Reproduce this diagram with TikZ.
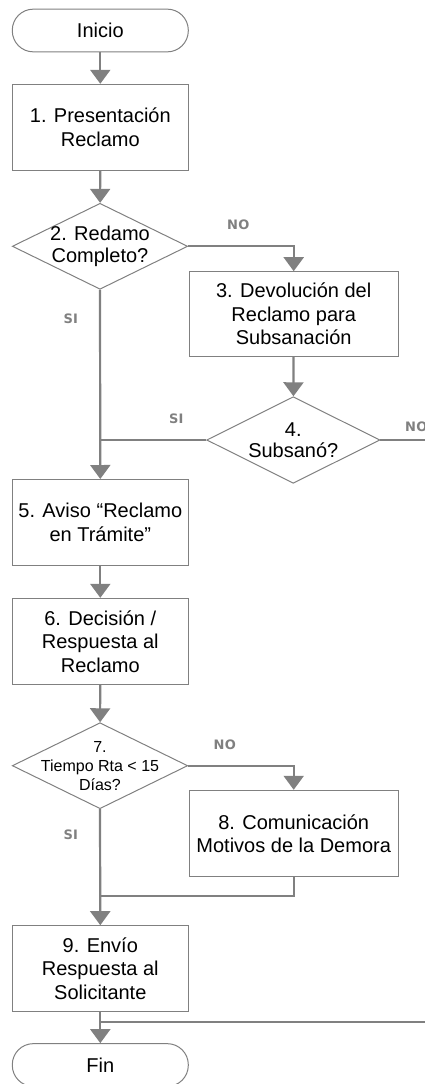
\documentclass[tikz,border=0pt]{standalone}
\usepackage{fontspec}
\setmainfont{Liberation Sans}
\newfontfamily\lblfont[LetterSpace=3]{DejaVu Sans}
\usetikzlibrary{shapes.geometric,arrows.meta}
\definecolor{ln}{RGB}{128,128,128}
\definecolor{lbl}{RGB}{128,128,128}
\begin{document}
\begin{tikzpicture}[x=1pt,y=-1pt,
  proc/.style={draw=ln, line width=1pt, fill=white, minimum width=176pt, minimum height=86pt,
    inner sep=0pt, align=center, font=\fontsize{20}{23.5}\selectfont},
  wide/.style={proc, minimum width=209.3pt, minimum height=85pt},
  term/.style={proc, rounded corners=21pt, minimum height=42.7pt},
  dia/.style={draw=ln, line width=1pt, shape=diamond, minimum width=175.4pt, minimum height=86pt, inner sep=0pt},
  dtxt/.style={align=center, inner sep=0pt, font=\fontsize{20}{21.5}\selectfont},
  dtxs/.style={align=center, inner sep=0pt, font=\fontsize{16}{19}\selectfont},
  conn/.style={draw=ln, line width=2.2pt},
  edge/.style={draw=ln, line width=1.6pt},
  arr/.style={conn, -{Triangle[width=20pt,length=14pt]}},
  lab/.style={text=lbl, inner sep=0pt, font=\lblfont\bfseries\fontsize{13}{15}\selectfont}
]
\useasboundingbox (0,0) rectangle (425,1084);
\clip (0,0) rectangle (425,1084);

% nodes
\node[term] (start) at (100.3,30.5) {Inicio};
\node[proc] (b1) at (100.3,127.3) {1. Presentación\\Reclamo};
\node[dia] (d2) at (100,246.3) {};
\node[dtxt] (d2t) at (d2) {2. Redamo\\Completo?};
\node[wide] (b3) at (293.7,314.2) {3. Devolución del\\Reclamo para\\Subsanación};
\node[dia, minimum width=173.3pt, minimum height=86.6pt] (d4) at (293.3,440) {};
\node[dtxt] (d4t) at (d4) {4.\\Subsanó?};
\node[proc] (b5) at (100.3,522.5) {5. Aviso “Reclamo\\en Trámite”};
\node[proc] (b6) at (100.3,641.3) {6. Decisión /\\Respuesta al\\Reclamo};
\node[dia] (d7) at (100,765.7) {};
\node[dtxs] (d7t) at (d7) {7.\\Tiempo Rta < 15\\Días?};
\node[wide, minimum height=86.4pt] (b8) at (293.7,833.5) {8. Comunicación\\Motivos de la Demora};
\node[proc] (b9) at (100.3,968.7) {9. Envío\\Respuesta al\\Solicitante};
\node[term] (fin) at (100.3,1065) {Fin};

% free-end coordinates
\coordinate (j8) at (100,895.7);
\coordinate (e4) at (432,440);
\coordinate (j9) at (100,1021.7);
\coordinate (e9) at (432,1021.7);

% connectors
\draw[arr] (start) -- (b1);
\draw[arr] (b1) -- (d2);
\draw[arr] (d2.east) -| (b3.north);
\draw[arr] (d2.south) -- (b5.north);
\draw[arr] (b3) -- (d4);
\draw[conn] (d4.west) -- (d4.west -| d2.south);
\draw[edge] (d4.east) -- (e4);
\draw[arr] (b5) -- (b6);
\draw[arr] (b6) -- (d7);
\draw[arr] (d7.east) -| (b8.north);
\draw[arr] (d7.south) -- (b9.north);
\draw[conn] (b8.south) |- (j8);
\draw[arr] (b9) -- (fin);
\draw[edge] (j9) -- (e9);

% labels
\node[lab] (n1) at (238.3,225) {NO};
\node[lab] (s1) at (70.8,318.3) {SI};
\node[lab] (s2) at (176.3,419.2) {SI};
\node[lab, anchor=west] (n2) at (405,427) {NO};
\node[lab] (n3) at (224.8,745) {NO};
\node[lab] (s3) at (70.8,835) {SI};
\end{tikzpicture}
\end{document}
